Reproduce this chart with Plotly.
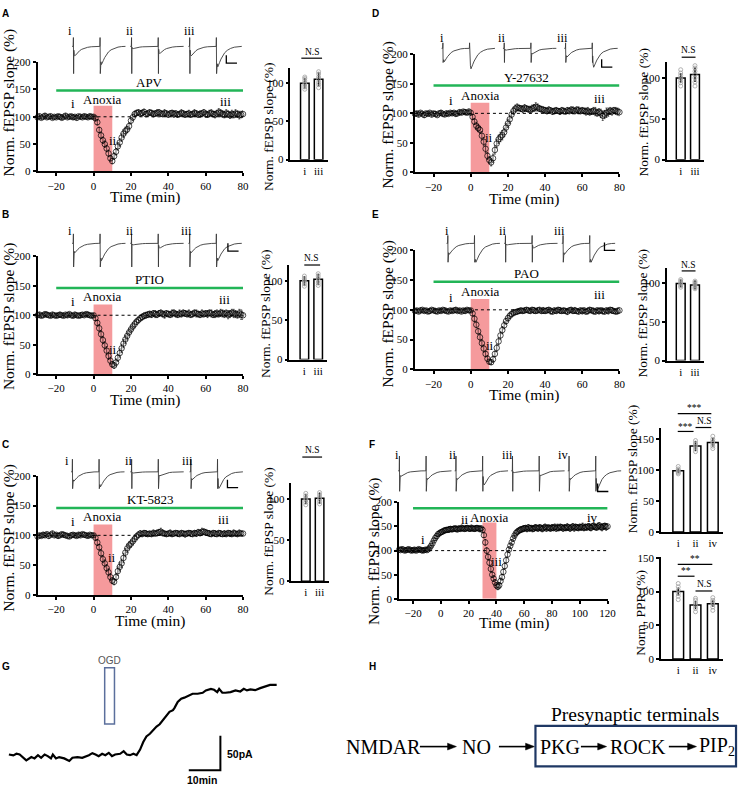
import plotly.graph_objects as go

W, H = 747, 791
SERIF = "Liberation Serif, Times New Roman, serif"
SANS = "Liberation Sans, Arial, sans-serif"

# ---------------------------------------------------------------- data
minutes_short = list(range(-30, 81))
minutes_long = list(range(-30, 121))

apv_slope = [99,101,98,100,102,99,100,101,98,100,
             99,101,100,98,100,102,99,100,101,99,
             100,98,101,100,99,101,100,99,101,100,
             100,97,90,76,66,57,50,42,33,24,
             19,28,36,46,53,62,69,74,77,83,
             93,99,105,107,108,106,107,109,105,106,
             108,107,105,106,107,108,106,105,107,106,
             104,106,107,105,106,104,105,107,106,104,
             105,106,104,105,107,106,104,105,106,108,
             105,104,106,107,105,104,106,108,107,105,
             104,106,105,103,105,104,106,105,103,104,
             105]
apv_err = [3,4,3,3,4,3,3,4,3,3, 3,3,4,3,3,4,3,3,3,4, 3,4,3,3,3,4,3,3,4,3,
           3,4,5,5,6,6,6,6,6,5, 5,6,6,7,7,7,7,7,6,6, 6,6,5,5,5,5,5,5,5,5,
           5,5,5,5,6,5,5,5,6,5, 5,5,5,6,5,5,5,6,5,5, 5,6,5,5,6,5,5,6,5,5,
           6,5,6,6,5,6,6,7,6,6, 6,7,6,6,7,6,7,6,7,6, 6]

y27632_slope = [99,100,98,101,99,97,100,99,101,98,
                100,99,97,100,101,99,98,100,99,101,
                100,101,99,100,102,101,103,102,101,103,
                101,94,86,79,75,72,62,52,40,28,
                21,17,24,38,49,56,60,63,68,76,
                83,90,98,104,108,110,109,108,107,109,
                108,107,106,108,109,111,110,108,107,106,
                105,104,106,105,103,104,105,104,103,105,
                104,103,105,104,106,105,104,106,105,104,
                105,104,103,104,102,103,104,103,101,102,
                100,96,98,101,102,104,103,105,104,103,
                102]
y27632_err = [3,3,4,3,3,4,3,3,3,4, 3,4,3,3,4,3,3,4,3,3, 3,3,4,3,4,3,3,4,3,4,
              3,4,5,6,6,6,7,7,7,6, 6,6,7,7,7,7,8,8,7,7, 7,7,6,6,6,6,5,5,6,6,
              5,5,6,6,6,7,6,5,5,5, 5,5,5,4,5,5,5,4,5,5, 5,4,5,5,5,6,5,5,6,5,
              5,5,6,6,5,5,6,7,6,6, 7,8,7,8,7,6,6,5,6,6, 6]

ptio_slope = [100,101,99,100,102,101,100,99,101,100,
              99,100,101,100,99,101,100,102,100,99,
              101,100,99,100,101,100,102,101,100,99,
              100,95,87,78,68,58,49,40,31,23,
              17,15,20,28,36,44,52,59,65,71,
              76,81,85,89,92,95,97,99,100,101,
              102,101,103,102,101,103,104,102,101,103,
              102,101,103,104,102,101,103,102,104,103,
              102,103,101,102,104,103,102,101,103,102,
              103,102,104,103,101,102,103,102,104,103,
              102,103,101,102,104,103,102,101,103,101,
              100]
ptio_err = [3,4,3,3,3,4,3,3,4,3, 3,3,4,3,3,3,4,3,3,3, 4,3,3,4,3,3,3,4,3,3,
            3,4,5,6,6,6,6,7,6,6, 5,5,6,6,7,7,7,7,7,6, 6,6,6,5,5,5,5,5,5,5,
            5,5,5,6,5,5,5,5,6,5, 5,5,6,5,5,5,6,5,5,5, 5,6,5,5,5,6,5,5,6,5,
            5,6,5,6,5,6,6,5,6,6, 6,6,7,6,6,7,6,6,7,8, 7]

pao_slope = [98,99,97,99,100,98,99,97,98,100,
             99,98,97,99,98,100,99,98,97,99,
             98,99,100,98,99,97,99,98,100,99,
             99,94,85,75,64,54,44,35,26,18,
             13,12,17,26,36,47,57,66,74,81,
             86,90,93,95,96,97,98,99,98,99,
             100,99,98,100,99,98,99,100,98,99,
             98,99,100,98,97,99,98,100,99,98,
             99,98,97,99,100,98,99,98,97,99,
             98,99,97,98,100,99,98,97,99,98,
             99,98,97,99,98,100,99,98,97,98,
             99]
pao_err = [3,3,3,4,3,3,3,3,4,3, 3,4,3,3,3,3,4,3,3,3, 3,3,4,3,3,3,3,4,3,3,
           3,4,5,5,5,6,6,6,5,5, 4,4,5,5,6,6,6,6,6,5, 5,5,5,5,4,4,4,4,4,4,
           4,4,4,4,5,4,4,4,4,5, 4,4,4,5,4,4,4,4,5,4, 4,4,5,4,4,4,5,4,4,4,
           5,4,4,5,4,4,5,4,4,5, 4,5,4,4,5,4,5,4,4,5, 5]

kt5823_slope = [98,100,99,101,100,102,99,101,103,100,
                101,99,100,102,101,100,99,98,100,101,
                100,99,101,100,102,101,100,99,101,100,
                100,96,88,80,70,60,53,45,38,30,
                24,22,30,40,47,53,62,71,78,83,
                86,90,94,98,101,103,102,104,103,102,
                103,102,104,103,104,105,106,104,103,102,
                103,104,102,103,104,103,102,104,103,102,
                103,104,103,102,104,103,105,104,106,106,
                105,104,103,102,104,103,102,104,103,102,
                103,102,104,103,102,104,103,102,104,103,
                103]
kt5823_err = [4,3,3,4,3,3,4,3,4,3, 3,4,3,3,4,3,3,3,4,3, 3,3,4,3,3,4,3,3,3,3,
              3,4,5,5,6,6,6,6,6,6, 5,5,6,7,7,7,8,7,7,6, 6,6,5,5,5,5,4,4,5,4,
              4,4,5,4,5,5,6,5,4,4, 4,5,4,4,4,5,4,4,4,5, 4,4,5,4,4,5,5,5,6,5,
              5,4,5,4,4,5,4,4,5,4, 5,4,4,5,4,5,4,4,5,4, 4]

rho_slope = [102,101,103,102,100,101,102,103,101,100,
             101,102,100,101,103,102,101,100,101,102,
             101,103,106,110,115,121,126,130,134,136,
             138,139,141,142,143,143,144,145,144,145,
             146,145,144,146,145,147,146,145,146,147,
             146,145,147,146,145,146,147,146,145,146,
             143,132,117,100,87,75,62,50,42,34,
             28,25,28,37,45,56,68,80,92,102,
             110,117,125,131,136,139,141,143,144,145,
             146,147,145,148,146,147,145,146,148,147,
             146,148,147,145,147,149,146,148,147,146,
             148,147,149,146,148,147,149,148,146,148,
             147,149,148,146,148,150,147,149,148,147,
             149,148,150,147,149,148,150,149,147,150,
             151,149,148,150,152,149,148,150,151,149,
             150]
rho_err = [3,3,4,3,3,4,3,3,3,4, 3,4,3,3,4,3,3,4,3,3, 3,3,4,4,5,5,5,5,5,5,
           5,5,5,5,5,5,6,5,5,5, 5,6,5,5,5,6,5,5,6,5, 5,5,6,5,5,6,5,5,6,5,
           5,5,6,6,6,6,6,6,6,6, 6,6,6,6,6,6,6,6,6,6, 6,6,6,6,6,6,6,6,6,6,
           6,5,6,6,6,5,6,6,6,6, 6,6,6,6,6,6,6,5,6,6, 6,6,6,6,7,6,6,6,6,6,
           6,7,6,6,6,6,7,6,6,6, 6,6,7,6,6,6,6,7,6,6, 7,6,6,7,6,6,7,6,6,7, 6]

# bar summaries (mean, sem, individual slices)
apv_bar_mean, apv_bar_err = [100, 105], [7, 9]
apv_bar_pts = [[92, 95, 98, 100, 103, 106, 108], [94, 98, 101, 105, 108, 112, 115]]
y27632_bar_mean, y27632_bar_err = [100, 104], [6, 9]
y27632_bar_pts = [[90, 94, 97, 100, 103, 106, 110], [90, 95, 100, 104, 108, 112, 115]]
ptio_bar_mean, ptio_bar_err = [100, 102], [6, 7]
ptio_bar_pts = [[93, 96, 99, 101, 103, 106], [94, 97, 100, 103, 106, 109]]
pao_bar_mean, pao_bar_err = [100, 98], [5, 6]
pao_bar_pts = [[95, 97, 99, 101, 103, 105], [93, 95, 97, 99, 101, 103]]
kt5823_bar_mean, kt5823_bar_err = [100, 101], [6, 7]
kt5823_bar_pts = [[93, 96, 99, 101, 104, 107], [94, 97, 100, 102, 105, 108]]
rho_bar_mean, rho_bar_err = [99, 139, 145], [4, 8, 7]
rho_bar_pts = [[94, 96, 98, 100, 102, 106], [130, 134, 138, 141, 144, 148], [135, 139, 143, 146, 150, 155]]
rho_ppr_mean, rho_ppr_err = [100, 80, 82], [6, 6, 5]
rho_ppr_pts = [[88, 93, 97, 102, 107, 112], [70, 75, 79, 83, 87, 90], [72, 77, 81, 84, 87, 91]]

cats_two = ["i", "iii"]
cats_three = ["i", "ii", "iv"]
time_ticks_short = [-20, 0, 20, 40, 60, 80]
time_ticks_long = [-20, 0, 20, 40, 60, 80, 100, 120]
slope_ticks = [0, 50, 100, 150, 200]

# sample fEPSP waveform template (ms after stimulus, normalised EPSP, artifact up/down flags)
resp_t = [0, 0.4, 0.8, 1.2, 2.0, 3.0, 4.5, 6.5, 9, 12, 16, 21, 27, 34, 41, 48]
resp_epsp = [0, 0, 0, -0.4, -0.85, -1.0, -0.93, -0.78, -0.62, -0.46, -0.31, -0.19, -0.1, -0.04, -0.01, 0]
resp_up = [0, 1, 0, 0, 0, 0, 0, 0, 0, 0, 0, 0, 0, 0, 0, 0]
resp_down = [0, 0, 1, 0, 0, 0, 0, 0, 0, 0, 0, 0, 0, 0, 0, 0]
stim_times = [2, 52]
sweep_len = 100

# EPSP amplitudes (mV) of the paired responses in each sample sweep
apv_sweep_amp = [[0.6, 1.15], [0.15, 0.45], [0.6, 1.3]]
y27632_sweep_amp = [[0.85, 1.3], [0.12, 0.35], [0.55, 1.2]]
ptio_sweep_amp = [[0.6, 1.1], [0.1, 0.3], [0.6, 1.1]]
pao_sweep_amp = [[0.7, 1.2], [0.1, 0.3], [0.7, 1.2]]
kt5823_sweep_amp = [[0.6, 0.95], [0.08, 0.25], [0.5, 1.05]]
rho_sweep_amp = [[0.35, 0.55], [0.55, 0.9], [0.12, 0.3], [0.55, 1.2]]

# whole-cell current trace (panel G)
g_time = [0, 1.4, 2.4, 3.4, 5.5, 7.1, 8.1, 9.2, 10.2, 11.3,
          12.3, 13.3, 13.9, 14.9, 15.9, 17.5, 19.1, 20.1, 21.7, 23.2,
          25.3, 26.4, 27.4, 28.4, 29.5, 30.5, 31.6, 32.6, 33.6, 35.2,
          36.3, 37.3, 38.3, 39.4, 40.4, 41.5, 42.5, 43.5, 44.6, 45.6,
          46.7, 47.7, 48.8, 49.8, 50.8, 51.9, 52.4, 53.4, 54.5, 55.5,
          57.1, 58.1, 59.7, 61.3, 62.3, 63.9, 64.9, 65.9, 66.5, 67.5,
          68.5, 70.1, 71.7, 73.2, 74.3, 75.3, 76.4, 77.9, 79.5, 81.0,
          82.6, 84.7]
g_current = [0, -1.4, 1, 0, -8.6, -3.8, -5.7, -1, -4.8, 0,
             -2.4, -5.7, 0, -5.7, -3.8, -5.7, -9.5, -4.8, -3.8, -4.8,
             -1, 1.9, 0, -2.4, 1, -1, 2.4, -2.4, 0, 1,
             4.8, 0, -1, 1, -1, 7.1, 18.1, 26.2, 30, 35.7,
             40.5, 43.8, 50, 57.1, 61.9, 64.3, 67.6, 76.2, 81, 82.4,
             85.7, 88.1, 88.1, 89.5, 92.9, 95.2, 93.8, 90.5, 95.2, 89.5,
             89.5, 90.5, 92.9, 91.4, 95.2, 92.9, 94.3, 93.3, 96.2, 99,
             101, 101]
ogd_window = [30.3, 33.4]

# ---------------------------------------------------------------- helpers
layout = dict(width=W, height=H, margin=dict(l=0, r=0, t=0, b=0),
              paper_bgcolor="white", plot_bgcolor="rgba(0,0,0,0)", showlegend=False)
annotations, shapes, traces = [], [], []


def px(x, y):
    return x / W, 1 - y / H


def axname(i):
    return ("xaxis" if i == 1 else f"xaxis{i}"), ("yaxis" if i == 1 else f"yaxis{i}")


def make_axes(i, xpx, ypx, xr, yr, visible=True):
    xn, yn = axname(i)
    xref = "x" if i == 1 else f"x{i}"
    yref = "y" if i == 1 else f"y{i}"
    base = dict(showgrid=False, zeroline=False, fixedrange=True)
    X = dict(base, domain=[xpx[0] / W, xpx[1] / W], range=xr, anchor=yref)
    Y = dict(base, domain=[1 - ypx[1] / H, 1 - ypx[0] / H], range=yr, anchor=xref)
    if visible:
        st = dict(showline=True, linecolor="black", linewidth=1.8, ticks="outside",
                  ticklen=3, tickwidth=1.5, tickcolor="black",
                  tickfont=dict(family=SERIF, size=11, color="black"))
        X.update(st)
        Y.update(st)
    else:
        X.update(visible=False)
        Y.update(visible=False)
    layout[xn] = X
    layout[yn] = Y
    return xref, yref


def note(text, x, y, size=12, family=SERIF, angle=0, color="black",
         xref="paper", yref="paper", xanchor="center", yanchor="middle"):
    if xref == "paper":
        x = x / W
    if yref == "paper":
        y = 1 - y / H
    annotations.append(dict(text=text, x=x, y=y, xref=xref, yref=yref, showarrow=False,
                            font=dict(family=family, size=size, color=color),
                            xanchor=xanchor, yanchor=yanchor, textangle=angle))


def pline(x0, y0, x1, y1, color="black", width=1.2):
    a, b = px(x0, y0)
    c, d = px(x1, y1)
    shapes.append(dict(type="line", xref="paper", yref="paper", x0=a, y0=b, x1=c, y1=d,
                       line=dict(color=color, width=width)))


# ---------------------------------------------------------------- time-course panels
time_panels = [
    dict(i=1, xpx=(38, 246), ypx=(57, 168), xr=[-30, 80], t=minutes_short, v=apv_slope, e=apv_err,
         drug="APV", drug_xy=(30, 163), green=(-20, 80, 148), anox=(0, 10, 120), anox_lab=(4.8, 131),
         labels=[("i", -11, 125), ("ii", 10.5, 56), ("iii", 70.5, 128)], ytit=(9, 98), xtit=(147, 194),
         xticks=time_ticks_short),
    dict(i=4, xpx=(420, 627), ypx=(49, 169), xr=[-30, 80], t=minutes_short, v=y27632_slope, e=y27632_err,
         drug="Y-27632", drug_xy=(30, 161), green=(-20, 80, 147), anox=(0, 10, 118), anox_lab=(5.3, 131),
         labels=[("i", -10.6, 121), ("ii", 9.8, 59), ("iii", 69.5, 125)], ytit=(393, 110), xtit=(530, 196),
         xticks=time_ticks_short),
    dict(i=7, xpx=(38, 246), ypx=(254, 374), xr=[-30, 80], t=minutes_short, v=ptio_slope, e=ptio_err,
         drug="PTIO", drug_xy=(30, 160), green=(-20, 80, 146), anox=(0, 10, 118), anox_lab=(4.8, 131),
         labels=[("i", -11, 123), ("ii", 10.5, 42), ("iii", 70, 126)], ytit=(9, 315), xtit=(147, 400),
         xticks=time_ticks_short),
    dict(i=10, xpx=(420, 627), ypx=(248, 369), xr=[-30, 80], t=minutes_short, v=pao_slope, e=pao_err,
         drug="PAO", drug_xy=(30, 161), green=(-20, 80, 147), anox=(0, 10, 118), anox_lab=(5.3, 131),
         labels=[("i", -10.6, 121), ("ii", 10.5, 40), ("iii", 69.5, 125)], ytit=(393, 312), xtit=(530, 395),
         xticks=time_ticks_short),
    dict(i=13, xpx=(38, 246), ypx=(477, 598), xr=[-30, 80], t=minutes_short, v=kt5823_slope, e=kt5823_err,
         drug="KT-5823", drug_xy=(30, 160.5), green=(-20, 80, 146), anox=(0, 10, 118), anox_lab=(4.8, 131.5),
         labels=[("i", -11.1, 123), ("ii", 9.9, 62), ("iii", 69.8, 126)], ytit=(9, 540), xtit=(152, 624),
         xticks=time_ticks_short),
    dict(i=16, xpx=(404, 615), ypx=(504, 602), xr=[-30, 120], t=minutes_long, v=rho_slope, e=rho_err,
         drug="Rho activator II", drug_xy=(50, 204), green=(-20, 120, 188), anox=(30, 40, 158), anox_lab=(35.2, 168),
         labels=[("i", -13, 123), ("ii", 17.3, 165), ("iii", 40, 78), ("iv", 109, 168)], ytit=(378, 553),
         xtit=(520, 627), xticks=time_ticks_long),
]

for p in time_panels:
    xr_, yr_ = make_axes(p["i"], p["xpx"], p["ypx"], p["xr"], [0, 200])
    xn, yn = axname(p["i"])
    layout[xn].update(tickvals=p["xticks"])
    layout[yn].update(tickvals=slope_ticks)
    a0, a1, atop = p["anox"]
    shapes.append(dict(type="rect", xref=xr_, yref=yr_, x0=a0, x1=a1, y0=0, y1=atop,
                       fillcolor="#f59a9c", line=dict(width=0), layer="below"))
    shapes.append(dict(type="line", xref=xr_, yref=yr_, x0=p["xr"][0], x1=p["xr"][1], y0=100, y1=100,
                       line=dict(color="black", width=1, dash="dot"), layer="below"))
    g0, g1, gy = p["green"]
    shapes.append(dict(type="line", xref=xr_, yref=yr_, x0=g0, x1=g1, y0=gy, y1=gy,
                       line=dict(color="#22b557", width=2.5)))
    traces.append(go.Scatter(x=p["t"], y=p["v"], xaxis=xr_, yaxis=yr_, mode="markers",
                             error_y=dict(type="data", array=p["e"], color="black", thickness=0.6, width=1),
                             marker=dict(symbol="circle-open", size=5.5, color="black", line=dict(width=0.7)),
                             cliponaxis=False))
    note(p["drug"], p["drug_xy"][0], p["drug_xy"][1], size=13, xref=xr_, yref=yr_)
    note("Anoxia", p["anox_lab"][0], p["anox_lab"][1], size=13, xref=xr_, yref=yr_)
    for lab, lx, ly in p["labels"]:
        note(lab, lx, ly, size=13, xref=xr_, yref=yr_)
    note("Norm. fEPSP slope (%)", p["ytit"][0], p["ytit"][1], size=15.5, angle=-90)
    note("Time (min)", p["xtit"][0], p["xtit"][1], size=15.5)

# ---------------------------------------------------------------- bar panels
bar_panels = [
    dict(i=2, xpx=(294, 332), ypx=(62.8, 156), xr=[-1.04, 1.68], yr=[0, 120], cats=cats_two,
         m=apv_bar_mean, e=apv_bar_err, pts=apv_bar_pts, yt=[0, 50, 100], ytit=(271, 122),
         title="Norm. fEPSP slope (%)", sig=[("N.S", 316, 47, 305, 326, 53)]),
    dict(i=5, xpx=(675, 713), ypx=(56.4, 156), xr=[-0.97, 1.66], yr=[0, 120], cats=cats_two,
         m=y27632_bar_mean, e=y27632_bar_err, pts=y27632_bar_pts, yt=[0, 50, 100], ytit=(651, 108),
         title="Norm. fEPSP slope (%)", sig=[("N.S", 697, 45, 690, 704, 52)]),
    dict(i=8, xpx=(293, 331), ypx=(263, 359), xr=[-1.08, 1.64], yr=[0, 120], cats=cats_two,
         m=ptio_bar_mean, e=ptio_bar_err, pts=ptio_bar_pts, yt=[0, 50, 100], ytit=(268, 312),
         title="Norm. fEPSP slope (%)", sig=[("N.S", 315, 256, 308, 324, 263)]),
    dict(i=11, xpx=(675, 713), ypx=(266, 360), xr=[-0.97, 1.66], yr=[0, 120], cats=cats_two,
         m=pao_bar_mean, e=pao_bar_err, pts=pao_bar_pts, yt=[0, 50, 100], ytit=(650, 312),
         title="Norm. fEPSP slope (%)", sig=[("N.S", 697, 263, 690, 704, 269)]),
    dict(i=14, xpx=(295, 333), ypx=(484, 584), xr=[-1.04, 1.68], yr=[0, 120], cats=cats_two,
         m=kt5823_bar_mean, e=kt5823_bar_err, pts=kt5823_bar_pts, yt=[0, 50, 100], ytit=(272, 533),
         title="Norm. fEPSP slope (%)", sig=[("N.S", 316, 451, 306, 326, 458)]),
    dict(i=17, xpx=(669, 732), ypx=(428.7, 534), xr=[-1.0, 2.6], yr=[0, 168], cats=cats_three,
         m=rho_bar_mean, e=rho_bar_err, pts=rho_bar_pts, yt=[0, 50, 100, 150], ytit=(641, 470),
         title="Norm. fEPSP slope (%)",
         sig=[("***", 703, 408, 686, 720, 414), ("***", 694, 427, 686, 702, 432), ("N.S", 713, 421, 704, 720, 428)]),
    dict(i=18, xpx=(669, 732), ypx=(559, 663), xr=[-1.0, 2.6], yr=[0, 152], cats=cats_three,
         m=rho_ppr_mean, e=rho_ppr_err, pts=rho_ppr_pts, yt=[0, 50, 100, 150], ytit=(648, 616),
         title="Norm. PPR (%)",
         sig=[("**", 703, 562, 686, 721, 567), ("**", 694, 574, 686, 703, 579), ("N.S", 713, 587, 704, 721, 594)]),
]

for b in bar_panels:
    xr_, yr_ = make_axes(b["i"], b["xpx"], b["ypx"], b["xr"], b["yr"])
    xn, yn = axname(b["i"])
    pos = list(range(len(b["cats"])))
    layout[xn].update(tickvals=pos, ticktext=b["cats"], ticks="", tickfont=dict(family=SERIF, size=11, color="black"))
    layout[yn].update(tickvals=b["yt"], tickfont=dict(family=SERIF, size=11, color="black"), linewidth=1.5)
    traces.append(go.Bar(x=pos, y=b["m"], xaxis=xr_, yaxis=yr_, width=0.62,
                         marker=dict(color="white", line=dict(color="black", width=1.5)),
                         error_y=dict(type="data", array=b["e"], color="black", thickness=1.4, width=0)))
    for k, pts in enumerate(b["pts"]):
        traces.append(go.Scatter(x=[pos[k]] * len(pts), y=pts, xaxis=xr_, yaxis=yr_, mode="markers",
                                 marker=dict(symbol="circle-open", size=4, color="#a0a0a0", line=dict(width=0.8)),
                                 cliponaxis=False))
    note(b["title"], b["ytit"][0], b["ytit"][1], size=13.5, angle=-90)
    for txt, tx, ty, lx0, lx1, ly in b["sig"]:
        note(txt, tx, ty, size=9.5)
        pline(lx0, ly, lx1, ly, width=1.2)

# ---------------------------------------------------------------- sample sweeps (insets)
inset_panels = [
    dict(i=3, left=73, base=41, spacing=109, amps=apv_sweep_amp, art=(0.56, 1.73), scale=(289, -1.06),
         labels=[("i", 71, 25), ("ii", 131, 25), ("iii", 192, 25)]),
    dict(i=6, left=447, base=43, spacing=115, amps=y27632_sweep_amp, art=(0.35, 0.9), scale=(300, -1.19),
         labels=[("i", 447, 32), ("ii", 508, 32), ("iii", 569, 32)]),
    dict(i=9, left=73, base=241, spacing=109, amps=ptio_sweep_amp, art=(0.6, 1.5), scale=(292, -0.5),
         labels=[("i", 71, 228), ("ii", 131, 228), ("iii", 189, 228)]),
    dict(i=12, left=452, base=241, spacing=108, amps=pao_sweep_amp, art=(0.5, 1.2), scale=(296, -0.44),
         labels=[("i", 452, 228), ("ii", 509, 228), ("iii", 566, 228)]),
    dict(i=15, left=72, base=473, spacing=111, amps=kt5823_sweep_amp, art=(0.8, 1.07), scale=(293, -1.0),
         labels=[("i", 68, 462), ("ii", 130, 462), ("iii", 190, 462)]),
    dict(i=19, left=403, base=472, spacing=106, amps=rho_sweep_amp, art=(0.94, 1.3), scale=(374, -1.31),
         labels=[("i", 402, 456), ("ii", 458, 456), ("iii", 514, 456), ("iv", 570, 456)]),
]
PX_PER_MS, PX_PER_MV = 0.54, 16.0

for ins in inset_panels:
    n = len(ins["amps"])
    width_px = (n - 1) * ins["spacing"] * PX_PER_MS + sweep_len * PX_PER_MS + 40
    xpx = (ins["left"] - 6, ins["left"] + width_px)
    ypx = (ins["base"] - 24, ins["base"] + 40)
    xr = [-6 / PX_PER_MS, width_px / PX_PER_MS]
    yr = [-40 / PX_PER_MV, 24 / PX_PER_MV]
    xr_, yr_ = make_axes(ins["i"], xpx, ypx, xr, yr, visible=False)
    xs, ys = [], []
    up, down = ins["art"]
    for k, amps in enumerate(ins["amps"]):
        off = k * ins["spacing"]
        xs.append(off)
        ys.append(0)
        for s, a in zip(stim_times, amps):
            for t, e, u, d in zip(resp_t, resp_epsp, resp_up, resp_down):
                xs.append(off + s + t)
                ys.append(a * e + up * u - down * d)
        xs.append(off + sweep_len)
        ys.append(0)
        xs.append(None)
        ys.append(None)
    traces.append(go.Scatter(x=xs, y=ys, xaxis=xr_, yaxis=yr_, mode="lines",
                             line=dict(color="#3a3a3a", width=0.9)))
    sx, sy = ins["scale"]
    traces.append(go.Scatter(x=[sx, sx, sx + 20], y=[sy + 0.5, sy, sy], xaxis=xr_, yaxis=yr_,
                             mode="lines", line=dict(color="black", width=1.3)))
    for lab, lx, ly in ins["labels"]:
        note(lab, lx, ly, size=12.5)

# ---------------------------------------------------------------- panel G
gx, gy = make_axes(20, (0, 300), (655, 791), [-9 / 3.2, 291 / 3.2], [(760 - 791) / 0.7, (760 - 655) / 0.7],
                   visible=False)
traces.append(go.Scatter(x=g_time, y=g_current, xaxis=gx, yaxis=gy, mode="lines",
                         line=dict(color="black", width=2.2)))
shapes.append(dict(type="rect", xref=gx, yref=gy, x0=ogd_window[0], x1=ogd_window[1], y0=44.3, y1=125.7,
                   line=dict(color="#5b6f9c", width=1.5), fillcolor="rgba(0,0,0,0)"))
traces.append(go.Scatter(x=[56.9, 66.9, 66.9], y=[-22.9, -22.9, 27.1], xaxis=gx, yaxis=gy, mode="lines",
                         line=dict(color="black", width=2)))
note("OGD", 31.9, 137, size=10, family=SANS, color="#555555", xref=gx, yref=gy)
note("<b>50pA</b>", 68.4, 1.4, size=10.5, family=SANS, xref=gx, yref=gy, xanchor="left")
note("<b>10min</b>", 61.2, -37, size=10.5, family=SANS, xref=gx, yref=gy)

# ---------------------------------------------------------------- panel H
note("Presynaptic terminals", 643, 719, size=19.5)
for txt, cx in [("NMDAR", 388), ("NO", 482), ("PKG", 567), ("ROCK", 646), ("PIP<sub>2</sub>", 726)]:
    note(txt, cx, 752, size=20)
for tail, head in [(425, 462), (505, 541), (588, 614), (677, 705)]:
    pline(tail, 752, head - 7, 752, width=1.6)
    t1 = px(head, 752)
    t2 = px(head - 9, 748.5)
    t3 = px(head - 9, 755.5)
    shapes.append(dict(type="path", xref="paper", yref="paper",
                       path=f"M {t1[0]} {t1[1]} L {t2[0]} {t2[1]} L {t3[0]} {t3[1]} Z",
                       fillcolor="black", line=dict(color="black", width=0.5)))
a, b_ = px(542, 731)
c, d = px(745, 772)
shapes.append(dict(type="rect", xref="paper", yref="paper", x0=a, y0=d, x1=c, y1=b_,
                   line=dict(color="#1f3864", width=2.2)))

# ---------------------------------------------------------------- panel letters
for lab, lx, ly in [("A", 6, 8), ("B", 6, 212), ("C", 6, 445), ("D", 380, 8), ("E", 380, 212),
                    ("F", 377, 445), ("G", 6, 671), ("H", 377, 671)]:
    note(f"<b>{lab}</b>", lx, ly, size=10, family=SANS)

layout["annotations"] = annotations
layout["shapes"] = shapes
fig = go.Figure(data=traces, layout=layout)
fig.write_html("out.html", config={"displayModeBar": False},
               post_script="document.body.style.margin='0px';document.body.style.overflow='hidden';")
